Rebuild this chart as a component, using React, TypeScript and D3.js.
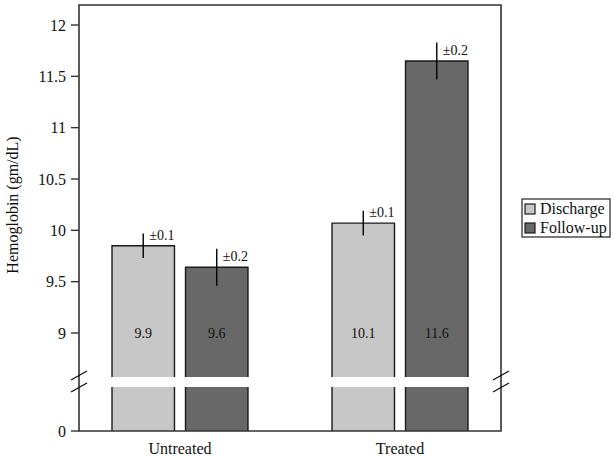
import React from "react";
import * as d3 from "d3";

const groups = ["Untreated", "Treated"];
const seriesNames = ["Discharge", "Follow-up"];
const dischargeValues = [9.85, 10.07];
const followupValues = [9.64, 11.65];
const dischargeErr = [0.12, 0.12];
const followupErr = [0.18, 0.18];
const dischargeLabels = ["9.9", "10.1"];
const followupLabels = ["9.6", "11.6"];
const dischargeErrLabels = ["±0.1", "±0.1"];
const followupErrLabels = ["±0.2", "±0.2"];
const upperTicks = [9, 9.5, 10, 10.5, 11, 11.5, 12];
const lowerTicks = [0];
const colors = ["#c7c7c7", "#686868"];

const W = 615;
const H = 458;
const left = 79;
const right = 501;
const top = 5;
const bottom = 431;
const breakTop = 377;
const breakBottom = 387;

export default function App() {
  const yUp = d3.scaleLinear().domain([9, 12]).range([333, 25]);
  const yLow = d3.scaleLinear().domain([0, 1]).range([bottom, bottom - 44]);
  const x0 = d3.scaleBand().domain(groups).range([left, right]).paddingInner(0.382).paddingOuter(0.15);
  const x1 = d3.scaleBand().domain(seriesNames).range([0, x0.bandwidth()]).paddingInner(0.15);
  const font = "'Liberation Serif', 'Times New Roman', serif";
  const series = [
    { name: seriesNames[0], vals: dischargeValues, err: dischargeErr, lab: dischargeLabels, elab: dischargeErrLabels },
    { name: seriesNames[1], vals: followupValues, err: followupErr, lab: followupLabels, elab: followupErrLabels },
  ];
  const stroke = "#1a1a1a";
  return (
    <svg width={W} height={H} style={{ position: "absolute", left: 0, top: 0, background: "#fff" }} fontFamily={font}>
      <rect x={0} y={0} width={W} height={H} fill="#fff" />
      {series.map((s, si) =>
        groups.map((g, gi) => {
          const bx = (x0(g) as number) + (x1(s.name) as number);
          const bw = x1.bandwidth();
          const yt = yUp(s.vals[gi]);
          const cx = bx + bw / 2;
          return (
            <g key={`${si}-${gi}`}>
              <rect x={bx} y={yt} width={bw} height={breakTop - yt} fill={colors[si]} />
              <rect x={bx} y={breakBottom} width={bw} height={bottom - breakBottom} fill={colors[si]} />
              <path
                d={`M${bx},${breakTop}V${yt}H${bx + bw}V${breakTop}`}
                fill="none"
                stroke={stroke}
                strokeWidth={1.4}
              />
              <path
                d={`M${bx},${breakBottom}V${bottom}M${bx + bw},${breakBottom}V${bottom}`}
                fill="none"
                stroke={stroke}
                strokeWidth={1.4}
              />
              <line
                x1={cx}
                x2={cx}
                y1={yUp(s.vals[gi] + s.err[gi])}
                y2={yUp(s.vals[gi] - s.err[gi])}
                stroke="#000"
                strokeWidth={1.4}
              />
              <text x={cx + 6} y={yt - 6} fontSize={14} fill="#111">
                {s.elab[gi]}
              </text>
              <text x={cx} y={yUp(9) + 5} fontSize={14} textAnchor="middle" fill="#111">
                {s.lab[gi]}
              </text>
            </g>
          );
        })
      )}
      {/* frame */}
      <path d={`M${left},${bottom}V${top}H${right}V${bottom}Z`} fill="none" stroke="#333" strokeWidth={1.6} />
      {/* ticks */}
      {upperTicks.map((t) => (
        <g key={t}>
          <line x1={left - 8} x2={left} y1={yUp(t)} y2={yUp(t)} stroke="#333" strokeWidth={1.4} />
          <text x={left - 13} y={yUp(t) + 5.5} fontSize={16} textAnchor="end" fill="#111">
            {d3.format("~g")(t)}
          </text>
        </g>
      ))}
      {lowerTicks.map((t) => (
        <g key={"l" + t}>
          <line x1={left - 8} x2={left} y1={yLow(t)} y2={yLow(t)} stroke="#333" strokeWidth={1.4} />
          <text x={left - 13} y={yLow(t) + 5.5} fontSize={16} textAnchor="end" fill="#111">
            {t}
          </text>
        </g>
      ))}
      {/* break marks */}
      {[left, right].map((bxm, i) => (
        <g key={"b" + i} stroke="#111" strokeWidth={1.4}>
          <line x1={bxm - 8} x2={bxm + 8} y1={breakTop + 3} y2={breakTop - 6} />
          <line x1={bxm - 8} x2={bxm + 8} y1={breakBottom + 5} y2={breakBottom - 4} />
        </g>
      ))}
      {/* x labels */}
      {groups.map((g) => (
        <text key={g} x={(x0(g) as number) + x0.bandwidth() / 2} y={454} fontSize={16} textAnchor="middle" fill="#111">
          {g}
        </text>
      ))}
      {/* y title */}
      <text transform={`translate(18,205) rotate(-90)`} fontSize={16} textAnchor="middle" fill="#111">
        Hemoglobin (gm/dL)
      </text>
      {/* legend */}
      <rect x={522} y={199} width={88} height={38} fill="#fff" stroke="#333" strokeWidth={1.3} />
      {seriesNames.map((n, i) => (
        <g key={n}>
          <rect x={525} y={204 + i * 19} width={10} height={10} fill={colors[i]} stroke={stroke} strokeWidth={1.2} />
          <text x={540} y={214 + i * 19} fontSize={16} fill="#111">
            {n}
          </text>
        </g>
      ))}
    </svg>
  );
}
